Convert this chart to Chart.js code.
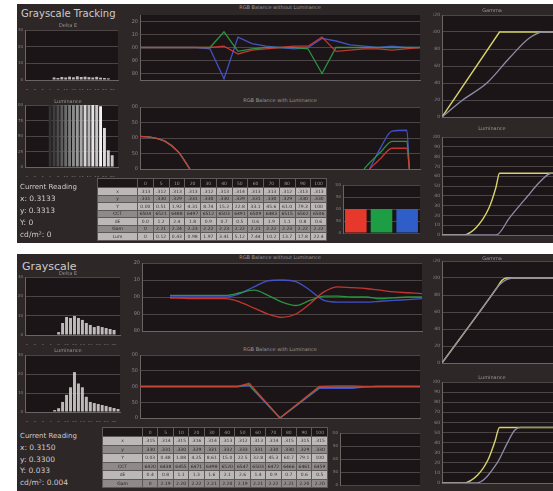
<!DOCTYPE html>
<html><head><meta charset="utf-8">
<script src="https://cdn.jsdelivr.net/npm/chart.js@4"></script>
<style>
html,body{margin:0;padding:0;background:#fff;overflow:hidden;width:553px;height:491px;position:relative;}
.panel{position:absolute;background:#2d2728;}
canvas{position:absolute;}
.t{position:absolute;color:#cfcaca;font-family:"DejaVu Sans",sans-serif;white-space:nowrap;line-height:1;}
.ct{position:absolute;color:#9a9495;font-family:"DejaVu Sans",sans-serif;font-size:5px;white-space:nowrap;line-height:1;transform:translateX(-50%);}
table.grid{position:absolute;border-collapse:collapse;font-family:"DejaVu Sans",sans-serif;font-size:4.5px;table-layout:fixed;}
table.grid td,table.grid th{border:1px solid #5e5859;padding:0;text-align:center;overflow:hidden;white-space:nowrap;}
table.grid th{background:#1d1718;color:#9a9495;font-weight:normal;}
table.grid tr.l td{background:#bdb8b8;color:#3a3435;}
table.grid tr.d td{background:#8f898a;color:#2a2425;}
</style></head><body>
<div class="panel" style="left:17px;top:4px;width:536px;height:239px"></div>
<div class="panel" style="left:17px;top:254px;width:536px;height:237px"></div>

<canvas id="tLumA"></canvas><canvas id="tLumB"></canvas>
<canvas id="tBalA"></canvas><canvas id="tBalB"></canvas>
<canvas id="tBars"></canvas>
<canvas id="tGamma"></canvas><canvas id="tLum"></canvas>
<canvas id="bLumA"></canvas><canvas id="bLumB"></canvas>
<canvas id="bBalA"></canvas><canvas id="bBalB"></canvas>
<canvas id="bBars"></canvas>
<canvas id="bGamma"></canvas><canvas id="bLum"></canvas>

<div class="t" style="left:21px;top:9px;font-size:10px;">Grayscale Tracking</div>
<div class="t" style="left:22px;top:261px;font-size:11px;">Grayscale</div>

<div class="ct" style="left:280px;top:5px;">RGB Balance without Luminance</div>
<div class="ct" style="left:280px;top:98px;">RGB Balance with Luminance</div>
<div class="ct" style="left:280px;top:255px;">RGB Balance without Luminance</div>
<div class="ct" style="left:280px;top:347px;">RGB Balance with Luminance</div>
<div class="ct" style="left:68px;top:23px;">Delta E</div>
<div class="ct" style="left:68px;top:99px;">Luminance</div>
<div class="ct" style="left:68px;top:271px;">Delta E</div>
<div class="ct" style="left:68px;top:348px;">Luminance</div>
<div class="ct" style="left:492px;top:8px;">Gamma</div>
<div class="ct" style="left:492px;top:126px;">Luminance</div>
<div class="ct" style="left:492px;top:256px;">Gamma</div>
<div class="ct" style="left:492px;top:375px;">Luminance</div>

<div id="readTop"></div>
<div id="readBot"></div>
<table class="grid" id="tblTop" style="left:97px;top:178px;width:230px;"></table>
<table class="grid" id="tblBot" style="left:102px;top:427px;width:226px;"></table>

<script>
// ---- stimulus levels and tick labels ----
const IRE = [0,5,10,15,20,25,30,35,40,45,50,55,60,65,70,75,80,85,90,95,100];
const ireTicks = ['0','5','10','15','20','25','30','35','40','45','50','55','60','65','70','75','80','85','90','95','100'];
const balTicks = [80,90,100,110,120];
const lumBalTicks = [0,50,100,150,200];
const gammaTicks = [0,20,40,60,80,100,120];
const lumTicks = [0,10,20,30,40,50,60,70,80,90,100];
const pctTicks = [0,20,40,60,80,100];
const histTicks = [0,10,20,30];
const histLabels = ['0','1','2','3','4','5','6','7','8','9','10','11','12','13','14','15','16','17','18','19','20','21','22','23'];

// ---- first run: RGB balance without luminance ----
const topRed   = [100,100,100,100,100,100,101,95,98,99,100,101,101,108,97,98,99,99,98,99,100];
const topGreen = [100,100,100,100,100,100,112,97,99,100,100,100,99,80,100,100,100,100,100,100,100];
const topBlue  = [100,100,100,100,100,99,76,108,103,101,100,99,100,107,105,102,101,100,101,100,100];

// ---- first run: RGB balance with luminance ----
const topLumX     = [0,4,9,13.6,17.8,50,80,82,86,90,95.3,96.2];
const topLumRed   = [105,102,89,56,0,null,null,0,35,67,67,0];
const topLumGreen = [105,102,89,56,0,null,0,20,55,89,89,0];
const topLumBlue  = [105,102,89,56,0,null,null,0,70,122,125,0];

// ---- first run: histograms ----
const histTopA = [0,0,0,0,0,0,0,1.5,1.2,1.8,1.5,2,1.6,2.2,1.8,2,1.7,1.5,1.9,1.4,1.2,1,0,0];
const histTopB = [0,0,0,0,0,0,100,100,100,100,100,100,100,100,100,100,100,100,100,98,63,27,19,0];

// ---- first run: primaries ----
const primLabels = ['R','G','B'];
const primTop = [100,100,100];

// ---- first run: gamma and luminance curves ----
const tGammaTargetX = [0,50,100];
const tGammaTargetY = [0,100,100];
const tGammaMeasX   = [0,18,39,59,76,88,100];
const tGammaMeasY   = [0,20,40,70,93,100,100];
const tLumTargetX   = [0,18,30,41,47,50,100];
const tLumTargetY   = [0,0,8,28,49,63,63];
const tLumMeasX     = [0,47,59,74,85,95,100];
const tLumMeasY     = [0,0,18,39,54,63,63];

// ---- second run: RGB balance without luminance ----
const botX     = [10,15,20,25,30,35,40,45,50,55,60,65,70,75,80,85,90,95,100];
const botRed   = [99.4,99.2,99,99,99,97,93.5,90,88,90,96,103,106,105.5,105,104,103,102.5,102];
const botGreen = [101,101,101,101,101,102.5,104,101,97,95,98,100.5,100.5,100,100,99,99.5,100,100];
const botBlue  = [100,100,100,100,100,102,106,109.5,110,109,104,98,97,97,97,97.5,98,98.5,99];

// ---- second run: RGB balance with luminance ----
const botLumX     = [0,5,10,15,20,25,30,35,39,50,64,70,76,80,85,90,95,100];
const botLumRed   = [100,100,100,100,100,100,100,100,110,0,100,102,102,100,100,100,100,100];
const botLumGreen = [100,100,100,100,100,100,100,100,106,0,97,97,97,99,100,100,100,100];
const botLumBlue  = [100,100,100,100,100,100,100,100,103,0,94,94,94,99,100,100,100,100];

// ---- second run: histograms ----
const histBotA = [0,0,0,0,0,0,0,0,1.5,6.2,9.3,8.8,9.8,8.8,7.8,6.2,5.2,4.1,4.7,4.1,3.6,3.1,2.6,0];
const histBotB = [0,0,0,0,0,0,0,1,2,5.3,9,13,21,15,13,8,5.3,4.7,4.2,3.7,3.2,2.6,2.1,1.6];
const primBot = [0,0,0];

// ---- second run: gamma and luminance curves ----
const bGammaTargetX = [0,48,52,56,100];
const bGammaTargetY = [0,89,97,100,100];
const bGammaMeasX   = [0,20,40,50,56,62,100];
const bGammaMeasY   = [0,37,74,92,98,100,100];
const bLumTargetX   = [0,18,31,40,46,50,100];
const bLumTargetY   = [0,0,8,23,41,55,55];
const bLumMeasX     = [0,30,48,57,63,68,100];
const bLumMeasY     = [0,0,20,40,52,55,55];

// ---- readings ----
const readTopLines = ['x: 0.3133','y: 0.3313','Y: 0','cd/m\u00b2: 0'];
const readBotLines = ['x: 0.3150','y: 0.3300','Y: 0.033','cd/m\u00b2: 0.004'];

// ---- tables ----
const tableCols = ['','0','5','10','20','30','40','50','60','70','80','90','100'];
const tableTop = [
  ['x','.313','.312','.313','.313','.312','.313','.314','.313','.313','.312','.313','.313'],
  ['y','.331','.330','.329','.331','.330','.330','.329','.331','.330','.329','.330','.330'],
  ['Y','0.00','0.51','1.92','4.31','8.74','15.2','22.8','33.1','45.6','61.0','79.3','100'],
  ['CCT','6504','6521','6488','6497','6512','6503','6491','6509','6483','6515','6502','6506'],
  ['dE','0.0','1.2','2.4','1.8','0.9','0.7','0.5','0.6','1.9','1.1','0.8','0.6'],
  ['Gam','0','2.21','2.24','2.23','2.22','2.23','2.22','2.21','2.22','2.23','2.22','2.22'],
  ['Lum','0','0.12','0.43','0.98','1.97','3.41','5.12','7.44','10.2','13.7','17.8','22.4']
];
const tableBot = [
  ['x','.315','.314','.315','.316','.314','.313','.312','.313','.314','.315','.315','.315'],
  ['y','.330','.331','.330','.329','.331','.332','.333','.331','.330','.330','.329','.330'],
  ['Y','0.03','0.48','1.88','4.25','8.61','15.0','22.5','32.8','45.3','60.7','79.1','100'],
  ['CCT','6420','6438','6455','6471','6498','6520','6547','6503','6472','6466','6461','6459'],
  ['dE','0.4','0.8','1.1','1.3','1.6','2.1','2.6','1.4','0.9','0.7','0.6','0.5'],
  ['Gam','0','2.19','2.20','2.22','2.21','2.20','2.19','2.21','2.22','2.21','2.20','2.20']
];

// ---- styles ----
const RED = 'rgba(214,58,50,0.9)', GREEN = 'rgba(46,160,70,0.9)', BLUE = 'rgba(70,84,210,0.95)';
const YEL = '#d6d46a', GRAY = '#8e8ca6';
const GRID = '#4b4546', BORDER = '#6a6465', PLOT = '#1b1517';
const histShades = ['#222','#222','#222','#222','#222','#222','#333','#3f3f3f','#4d4d4d','#5c5c5c','#6c6c6c','#7c7c7c','#8a8a8a','#999','#a6a6a6','#d6d6d6','#b6b6b6','#e4e4e4','#c6c6c6','#f2f2f2','#dcdcdc','#cfcfcf','#c4c4c4','#222'];

Chart.defaults.font.family = 'DejaVu Sans';
Chart.defaults.color = '#8c8687';

// dark plot background
Chart.register({
  id: 'plotBg',
  beforeDraw(chart) {
    const {ctx, chartArea: a} = chart;
    ctx.save();
    ctx.fillStyle = PLOT;
    ctx.fillRect(a.left, a.top, a.width, a.height);
    ctx.restore();
  }
});

const pts = (xs, ys) => xs.map((x, i) => ({x, y: ys[i]}));
const fixTicks = arr => s => { s.ticks = arr.map(v => ({value: v})); };

// place a chart so that its plot area lands on box (page pixels)
function place(id, box, yw, xh, config) {
  const pad = 3;
  const c = document.getElementById(id);
  const W = yw + box.w + 2 * pad, H = box.h + xh + 2 * pad;
  c.width = W; c.height = H;
  c.style.left = (box.x - yw - pad) + 'px';
  c.style.top = (box.y - pad) + 'px';
  c.style.width = W + 'px'; c.style.height = H + 'px';
  const o = config.options;
  o.responsive = false; o.animation = false; o.maintainAspectRatio = false;
  o.layout = {padding: pad};
  o.plugins = Object.assign({legend: {display: false}, tooltip: {enabled: false}}, o.plugins || {});
  o.scales.x.afterFit = s => { s.height = xh; s.paddingLeft = 0; s.paddingRight = 0; };
  o.scales.y.afterFit = s => { s.width = yw; s.paddingTop = 0; s.paddingBottom = 0; };
  return new Chart(c, config);
}

function line(data, color, smooth, width) {
  return {data, borderColor: color, borderWidth: width || 1.3, pointRadius: 0, fill: false,
          tension: smooth ? 0.4 : 0, cubicInterpolationMode: smooth ? 'monotone' : 'default', spanGaps: false};
}

function yAxis(min, max, ticks, fs) {
  return {min, max, afterBuildTicks: fixTicks(ticks),
          grid: {color: GRID, lineWidth: 1, drawTicks: false},
          border: {color: BORDER},
          ticks: {font: {size: fs || 5}, padding: 2, color: '#8c8687'}};
}

function balance(id, box, xs, r, g, b, yMin, yMax, yTicks, smooth) {
  return place(id, box, 9, 8, {
    type: 'line',
    data: {datasets: [line(pts(xs, r), RED, smooth), line(pts(xs, g), GREEN, smooth), line(pts(xs, b), BLUE, smooth)]},
    options: {
      scales: {
        x: {type: 'linear', min: 0, max: 100, afterBuildTicks: fixTicks(IRE),
            grid: {display: false}, border: {color: BORDER},
            ticks: {font: {size: 5}, padding: 2, maxRotation: 0, autoSkip: false,
                    callback: (v, i) => ireTicks[i]}},
        y: yAxis(yMin, yMax, yTicks)
      }
    }
  });
}

function hist(id, box, values, colors, yMax, ticks) {
  const labels = histLabels.map((l, i) => i % 2 ? ['', l] : l);
  return place(id, box, 7, 10, {
    type: 'bar',
    data: {labels, datasets: [{data: values, backgroundColor: colors, barPercentage: 0.75, categoryPercentage: 1}]},
    options: {
      scales: {
        x: {grid: {display: false}, border: {color: BORDER},
            ticks: {font: {size: 4, lineHeight: 1.15}, padding: 1, maxRotation: 0, autoSkip: false}},
        y: yAxis(0, yMax, ticks, 4)
      }
    }
  });
}

function curves(id, box, target, measured, yMax, yTicks, targetSmooth) {
  return place(id, box, 9, 8, {
    type: 'line',
    data: {datasets: [line(measured, GRAY, true, 1.3), line(target, YEL, targetSmooth, 1.4)]},
    options: {
      scales: {
        x: {type: 'linear', min: 0, max: 100, afterBuildTicks: fixTicks(pctTicks),
            grid: {display: false}, border: {color: BORDER},
            ticks: {font: {size: 5}, padding: 2, maxRotation: 0}},
        y: yAxis(0, yMax, yTicks, 4.5)
      }
    }
  });
}

function primaries(id, box, values) {
  return place(id, box, 8, 0, {
    type: 'bar',
    data: {labels: primLabels, datasets: [{data: values,
      backgroundColor: ['#e6392c', '#1d9e45', '#2f5ec9'], barPercentage: 0.84, categoryPercentage: 1}]},
    options: {
      scales: {
        x: {display: false},
        y: yAxis(0, 200, lumBalTicks, 4)
      }
    }
  });
}

// ---- first run ----
hist('tLumA', {x: 25, y: 30, w: 93, h: 50}, histTopA, 'rgba(220,215,215,0.85)', 30, histTicks);
hist('tLumB', {x: 25, y: 105, w: 93, h: 62}, histTopB, histShades, 100, [0,25,50,75,100]);
balance('tBalA', {x: 140, y: 15, w: 280, h: 65}, IRE, topRed, topGreen, topBlue, 75, 125, balTicks, false);
balance('tBalB', {x: 140, y: 107, w: 280, h: 62}, topLumX, topLumRed, topLumGreen, topLumBlue, 0, 200, lumBalTicks, true);
primaries('tBars', {x: 343, y: 185, w: 77, h: 48}, primTop);
curves('tGamma', {x: 442, y: 15, w: 115, h: 102}, pts(tGammaTargetX, tGammaTargetY), pts(tGammaMeasX, tGammaMeasY), 120, gammaTicks, false);
curves('tLum', {x: 442, y: 137, w: 115, h: 98}, pts(tLumTargetX, tLumTargetY), pts(tLumMeasX, tLumMeasY), 100, lumTicks, true);

// ---- second run ----
hist('bLumA', {x: 25, y: 277, w: 95, h: 58}, histBotA, 'rgba(220,215,215,0.85)', 30, histTicks);
hist('bLumB', {x: 25, y: 355, w: 95, h: 57}, histBotB, 'rgba(220,215,215,0.85)', 30, histTicks);
balance('bBalA', {x: 142, y: 263, w: 280, h: 68}, botX, botRed, botGreen, botBlue, 80, 120, balTicks, true);
balance('bBalB', {x: 140, y: 355, w: 280, h: 63}, botLumX, botLumRed, botLumGreen, botLumBlue, 0, 200, lumBalTicks, false);
primaries('bBars', {x: 340, y: 433, w: 80, h: 52}, primBot);
curves('bGamma', {x: 442, y: 261, w: 115, h: 102}, pts(bGammaTargetX, bGammaTargetY), pts(bGammaMeasX, bGammaMeasY), 120, gammaTicks, true);
curves('bLum', {x: 442, y: 382, w: 115, h: 101}, pts(bLumTargetX, bLumTargetY), pts(bLumMeasX, bLumMeasY), 100, lumTicks, true);

// ---- readings text ----
function readings(elId, left, top, lines, step) {
  const host = document.getElementById(elId);
  let html = `<div class="t" style="left:${left}px;top:${top}px;font-size:7px;">Current Reading</div>`;
  lines.forEach((s, i) => {
    html += `<div class="t" style="left:${left}px;top:${top + 11 + i * step}px;font-size:7.5px;">${s}</div>`;
  });
  host.innerHTML = html;
}
readings('readTop', 20, 184, readTopLines, 12);
readings('readBot', 20, 433, readBotLines, 11.7);

// ---- tables ----
function fillTable(elId, rows, rowH) {
  const t = document.getElementById(elId);
  let html = '<colgroup><col style="width:40px">' + tableCols.slice(1).map(() => '<col>').join('') + '</colgroup>';
  html += '<tr style="height:9px">' + tableCols.map(c => `<th>${c}</th>`).join('') + '</tr>';
  rows.forEach((r, i) => {
    html += `<tr class="${i % 2 ? 'd' : 'l'}" style="height:${rowH}px">` + r.map(c => `<td>${c}</td>`).join('') + '</tr>';
  });
  t.innerHTML = html;
}
fillTable('tblTop', tableTop, 7.5);
fillTable('tblBot', tableBot, 8.5);
</script>
</body></html>
